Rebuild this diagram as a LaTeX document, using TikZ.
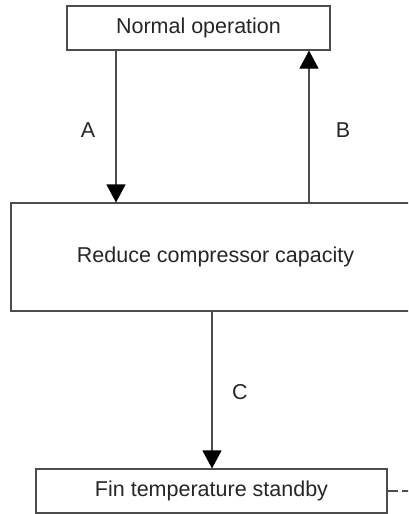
\documentclass[tikz,border=0pt]{standalone}
\usepackage{fontspec}
\setmainfont{Liberation Sans}
\usetikzlibrary{arrows.meta,positioning}

\begin{document}
\begin{tikzpicture}[
  x=1pt, y=-1pt,
  font=\fontsize{21.5}{25}\selectfont, text=black!85,
  state/.style={draw=black!70, line width=1.1pt, fill=white,
                inner sep=0pt, align=center},
  arr/.style={-{Triangle[length=18pt,width=19pt,color=black]},
              draw=black!70, line width=1.1pt},
]
% ---- frame ----
\useasboundingbox (0,0) rectangle (408,514);
\clip (0,0) rectangle (408,514);

% ---- states ----
\node[state, minimum width=263pt, minimum height=44pt] (norm)   at (198.5,28)  {Normal operation};
\node[state, minimum width=409pt, minimum height=108pt] (reduce) at (215.5,257) {Reduce compressor capacity};
\node[state, minimum width=351pt, minimum height=44pt] (fin)    at (211.5,491) {Fin temperature standby};

% ---- arrow columns ----
\coordinate (colA) at (116,0);
\coordinate (colB) at (309,0);
\coordinate (colC) at (212,0);
\coordinate (out)  at (430,491);

% ---- transitions ----
\draw[arr] (norm.south -| colA) -- (reduce.north -| colA);
\draw[arr] (reduce.north -| colB) -- (norm.south -| colB);
\draw[arr] (reduce.south -| colC) -- (fin.north -| colC);
\draw[draw=black!70, line width=1.1pt, dash pattern=on 10pt off 4pt] (fin.east) -- (out);

% ---- labels ----
\node (lA) at (88,130)  {A};
\node (lB) at (343,130) {B};
\node (lC) at (240,392) {C};
\end{tikzpicture}
\end{document}
